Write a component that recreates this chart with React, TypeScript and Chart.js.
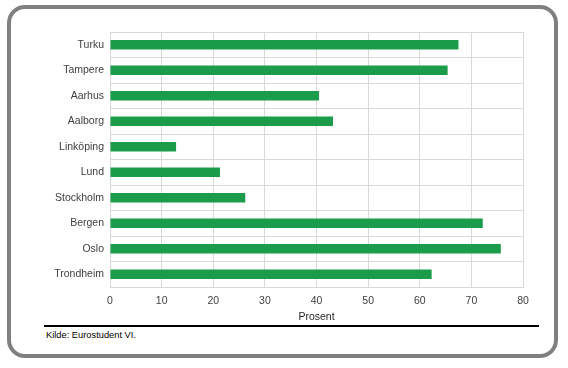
import React, { useEffect, useRef } from "react";
import { Chart, registerables } from "chart.js";

Chart.register(...registerables);

const categories = ["Turku", "Tampere", "Aarhus", "Aalborg", "Linköping", "Lund", "Stockholm", "Bergen", "Oslo", "Trondheim"];
const values = [67.5, 65.4, 40.5, 43.2, 12.8, 21.3, 26.2, 72.2, 75.7, 62.3];
const xTicks = [0, 10, 20, 30, 40, 50, 60, 70, 80];
const axisTitle = "Prosent";
const sourceText = "Kilde: Eurostudent VI.";

const FONT = "'Liberation Sans', Arial, sans-serif";

export default function App() {
  const ref = useRef<HTMLCanvasElement | null>(null);

  useEffect(() => {
    document.body.style.margin = "0";
    const canvas = ref.current;
    if (!canvas) return;
    const chart = new Chart(canvas, {
      type: "bar",
      data: {
        labels: categories,
        datasets: [
          {
            data: values,
            backgroundColor: "#1a9c4b",
            borderWidth: 0,
            categoryPercentage: 1,
            barPercentage: 0.37,
          },
        ],
      },
      options: {
        indexAxis: "y",
        responsive: false,
        maintainAspectRatio: false,
        animation: false,
        layout: { padding: { top: 32, right: 45, left: 0, bottom: 0 } },
        plugins: {
          legend: { display: false },
          tooltip: { enabled: false },
        },
        scales: {
          x: {
            min: 0,
            max: 80,
            afterBuildTicks: (scale: any) => {
              scale.ticks = xTicks.map((v) => ({ value: v }));
            },
            afterFit: (scale: any) => {
              scale.height = 38;
            },
            grid: { color: "#d9d9d9", drawTicks: false, lineWidth: 1 },
            border: { color: "#d9d9d9" },
            ticks: {
              color: "#404040",
              padding: 8,
              font: { family: FONT, size: 10.5 },
            },
            title: {
              display: true,
              text: axisTitle,
              color: "#262626",
              font: { family: FONT, size: 10.5 },
              padding: { top: 0, bottom: 2 },
            },
          },
          y: {
            afterFit: (scale: any) => {
              scale.width = 110;
            },
            grid: { color: "#d9d9d9", drawTicks: false, offset: true, lineWidth: 1 },
            border: { color: "#d9d9d9" },
            ticks: {
              color: "#404040",
              padding: 6,
              font: { family: FONT, size: 10.5 },
            },
          },
        },
      },
    });
    return () => chart.destroy();
  }, []);

  return (
    <div style={{ position: "fixed", left: 0, top: 0, width: 568, height: 368, background: "#ffffff", overflow: "hidden" }}>
      <div
        style={{
          position: "absolute",
          left: 7,
          top: 5,
          width: 551,
          height: 353,
          boxSizing: "border-box",
          border: "4px solid #808080",
          borderRadius: 18,
        }}
      />
      <canvas ref={ref} width={568} height={325} style={{ position: "absolute", left: 0, top: 0, width: 568, height: 325 }} />
      <div style={{ position: "absolute", left: 44, top: 325, width: 495, height: 2, background: "#000000" }} />
      <div
        style={{
          position: "absolute",
          left: 46,
          top: 329,
          fontFamily: FONT,
          fontSize: 9.3,
          lineHeight: "12px",
          color: "#000000",
          whiteSpace: "nowrap",
        }}
      >
        {sourceText}
      </div>
    </div>
  );
}
